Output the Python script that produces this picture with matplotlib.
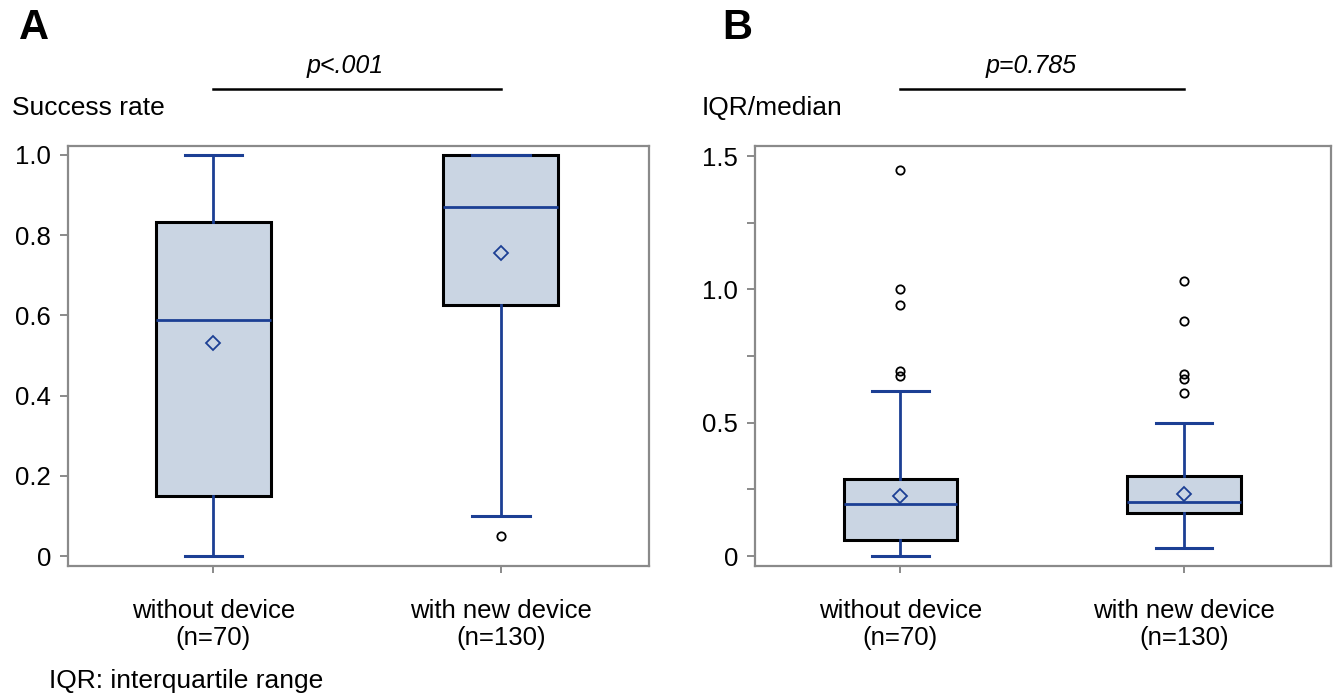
import matplotlib
matplotlib.use('Agg')
import matplotlib.pyplot as plt

plt.rcParams['font.family'] = ['Liberation Sans', 'DejaVu Sans']

# group labels
groups = ['without device\n(n=70)', 'with new device\n(n=130)']

# Panel A: success rate (box stats)
a_low = [0.0, 0.10]
a_q1 = [0.15, 0.625]
a_med = [0.588, 0.870]
a_q3 = [0.833, 1.0]
a_high = [1.0, 1.0]
a_mean = [0.532, 0.755]
a_fliers = [[], [0.05]]

# Panel B: IQR/median
b_low = [0.0, 0.031]
b_q1 = [0.061, 0.161]
b_med = [0.196, 0.201]
b_q3 = [0.29, 0.301]
b_high = [0.62, 0.50]
b_mean = [0.225, 0.234]
b_fliers = [[0.674, 0.692, 0.94, 1.0, 1.449], [0.611, 0.665, 0.684, 0.88, 1.03]]

a_ticks = [0, 0.2, 0.4, 0.6, 0.8, 1.0]
a_ticklabels = ['0', '0.2', '0.4', '0.6', '0.8', '1.0']
b_ticks = [0, 0.25, 0.5, 0.75, 1.0, 1.25, 1.5]
b_ticklabels = ['0', '', '0.5', '', '1.0', '', '1.5']

BLUE = '#1c3f94'
FILL = '#cad5e3'
GRAY = '#8a8a8a'


def make_stats(low, q1, med, q3, high, mean, fliers):
    stats = []
    for i in range(len(low)):
        stats.append(dict(whislo=low[i], q1=q1[i], med=med[i], q3=q3[i],
                          whishi=high[i], mean=mean[i], fliers=fliers[i]))
    return stats


def draw_panel(ax, stats, ylim, xlim, ticks, ticklabels):
    ax.bxp(stats, positions=[1, 2], widths=0.4, showmeans=True,
           patch_artist=True, capwidths=0.2,
           boxprops=dict(facecolor=FILL, edgecolor='black', linewidth=2.2),
           whiskerprops=dict(color=BLUE, linewidth=2),
           capprops=dict(color=BLUE, linewidth=2.2),
           medianprops=dict(color=BLUE, linewidth=2),
           meanprops=dict(marker='D', markerfacecolor='none', markeredgecolor=BLUE,
                          markersize=7, markeredgewidth=1.3),
           flierprops=dict(marker='o', markerfacecolor='none', markeredgecolor='black',
                           markersize=6, markeredgewidth=1.3))
    ax.set_xlim(*xlim)
    ax.set_ylim(*ylim)
    ax.set_yticks(ticks)
    ax.set_yticklabels(ticklabels)
    ax.set_xticks([1, 2])
    ax.set_xticklabels(groups, linespacing=1.15)
    for s in ax.spines.values():
        s.set_color(GRAY)
        s.set_linewidth(1.6)
    ax.tick_params(axis='y', direction='out', length=6, width=1.4, color=GRAY,
                   labelsize=18.5, pad=6)
    ax.tick_params(axis='x', direction='out', length=5, width=1.4, color=GRAY,
                   labelsize=18.5, pad=19)


fig = plt.figure(figsize=(13.36, 6.94), dpi=100)
axA = fig.add_axes([0.0507, 0.1844, 0.4351, 0.6056])
axB = fig.add_axes([0.5651, 0.1844, 0.4308, 0.6056])

draw_panel(axA, make_stats(a_low, a_q1, a_med, a_q3, a_high, a_mean, a_fliers),
           (-0.025, 1.023), (0.494, 2.515), a_ticks, a_ticklabels)
draw_panel(axB, make_stats(b_low, b_q1, b_med, b_q3, b_high, b_mean, b_fliers),
           (-0.0375, 1.5385), (0.488, 2.516), b_ticks, b_ticklabels)

# panel letters and axis titles
fig.text(19 / 1336, 1 - 28 / 694, 'A', fontsize=30, fontweight='bold', va='center', ha='left')
fig.text(722 / 1336, 1 - 28 / 694, 'B', fontsize=30, fontweight='bold', va='center', ha='left')
fig.text(12 / 1336, 1 - 108 / 694, 'Success rate', fontsize=19, va='center', ha='left')
fig.text(702 / 1336, 1 - 108 / 694, 'IQR/median', fontsize=19, va='center', ha='left')

# significance bars
for ax, label in [(axA, 'p<.001'), (axB, 'p=0.785')]:
    ax.plot([1, 2], [1 + 57 / 420.3] * 2, transform=ax.get_xaxis_transform(),
            color='black', linewidth=1.8, clip_on=False)
    ax.text(1.46, 1 + 80 / 420.3, label, transform=ax.get_xaxis_transform(),
            fontsize=18, style='italic', ha='center', va='center')

fig.text(49 / 1336, 1 - 688 / 694, 'IQR: interquartile range', fontsize=19,
         va='baseline', ha='left')

fig.savefig('out.png', dpi=100)
